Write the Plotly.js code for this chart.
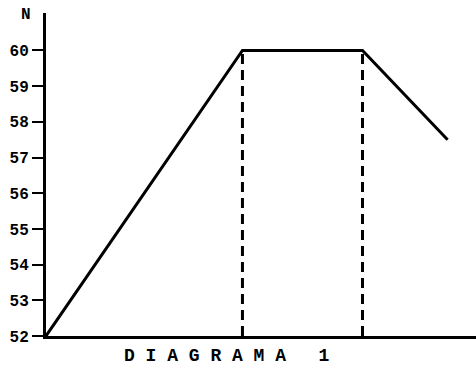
<!DOCTYPE html>
<html>
<head>
<meta charset="utf-8">
<script src="https://cdn.plot.ly/plotly-3.0.1.min.js"></script>
<style>
  html, body { margin: 0; padding: 0; background: #fff; }
  #graph { width: 476px; height: 368px; }
</style>
</head>
<body>
<div id="graph"></div>
<script>
// main curve
var X = [0, 9, 14.5, 18.4];
var Y = [52, 60, 60, 57.5];

// dashed drop lines
var dropX1 = [9, 9];
var dropX2 = [14.5, 14.5];
var dropY = [52, 60];

var yTicks = [52, 53, 54, 55, 56, 57, 58, 59, 60];
var yLabel = 'N';
var xLabel = 'D I A G R A M A   1';

var tickFont = { family: 'Liberation Mono, Courier New, monospace', size: 16, color: '#000' };

var line1 = {
  x: X,
  y: Y,
  type: 'scatter',
  mode: 'lines',
  line: { color: '#000', width: 3 },
  hoverinfo: 'none'
};

var dash1 = {
  x: dropX1,
  y: dropY,
  type: 'scatter',
  mode: 'lines',
  line: { color: '#000', width: 3, dash: '10px,6px' },
  hoverinfo: 'none'
};

var dash2 = {
  x: dropX2,
  y: dropY,
  type: 'scatter',
  mode: 'lines',
  line: { color: '#000', width: 3, dash: '10px,6px' },
  hoverinfo: 'none'
};

var layout = {
  width: 476,
  height: 368,
  margin: { l: 46, r: 0, t: 13, b: 32 },
  showlegend: false,
  paper_bgcolor: '#fff',
  plot_bgcolor: '#fff',
  xaxis: {
    range: [0, 19.7],
    showgrid: false,
    zeroline: false,
    showline: true,
    linecolor: '#000',
    linewidth: 3,
    ticks: '',
    showticklabels: false
  },
  yaxis: {
    range: [52, 61.05],
    tickvals: yTicks,
    ticktext: yTicks.map(String),
    showgrid: false,
    zeroline: false,
    showline: true,
    linecolor: '#000',
    linewidth: 3,
    ticks: 'outside',
    ticklen: 11,
    tickwidth: 2,
    tickcolor: '#000',
    tickfont: Object.assign({}, tickFont, { weight: 'bold' })
  },
  annotations: [
    {
      text: '<b>' + yLabel + '</b>',
      xref: 'paper', yref: 'paper',
      x: -0.046, y: 0.994,
      xanchor: 'center', yanchor: 'middle',
      showarrow: false,
      font: tickFont
    },
    {
      text: '<b>' + xLabel.replace(/ /g, '\u00A0') + '</b>',
      xref: 'paper', yref: 'paper',
      x: 0.42, y: -0.062,
      xanchor: 'center', yanchor: 'middle',
      showarrow: false,
      font: { family: 'Liberation Mono, Courier New, monospace', size: 18, color: '#000' }
    }
  ]
};

Plotly.newPlot('graph', [dash1, dash2, line1], layout, { staticPlot: true, displayModeBar: false });
</script>
</body>
</html>
